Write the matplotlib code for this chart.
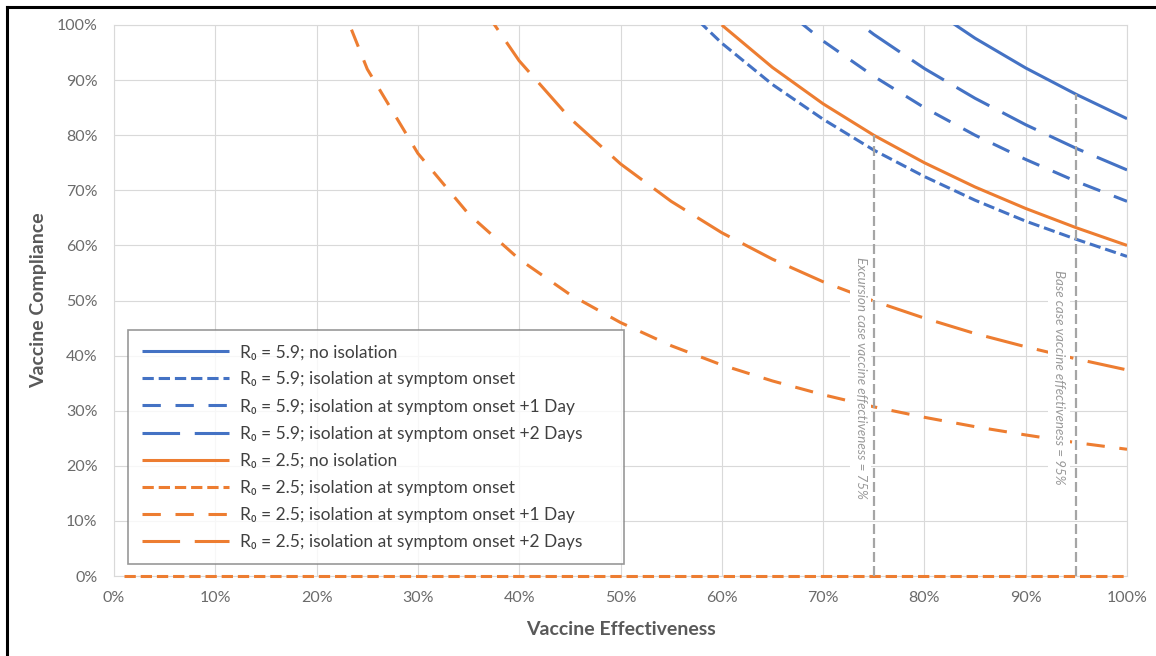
import matplotlib

matplotlib.use("Agg")
import matplotlib.pyplot as plt
from matplotlib.lines import Line2D
from matplotlib.ticker import PercentFormatter

# x grid shared by every series (vaccine effectiveness); each series
# holds the tail of the grid from the point where it enters the chart
ve = [0.01, 0.05, 0.10, 0.15, 0.20, 0.25, 0.30, 0.35, 0.40, 0.45, 0.50,
      0.55, 0.60, 0.65, 0.70, 0.75, 0.80, 0.85, 0.90, 0.95, 1.00]

# R0 = 5.9
r59_none = [1.038, 0.976, 0.922, 0.874, 0.830]
r59_onset = [1.055, 0.967, 0.892, 0.829, 0.773, 0.725, 0.682, 0.644, 0.611, 0.580]
r59_plus1 = [1.046, 0.971, 0.907, 0.850, 0.800, 0.756, 0.716, 0.680]
r59_plus2 = [1.053, 0.983, 0.921, 0.867, 0.819, 0.776, 0.737]

# R0 = 2.5
r25_none = [1.000, 0.923, 0.857, 0.800, 0.750, 0.706, 0.667, 0.632, 0.600]
r25_onset = [0.0] * len(ve)
r25_plus1 = [1.150, 0.920, 0.767, 0.657, 0.575, 0.511, 0.460, 0.418, 0.383,
             0.354, 0.329, 0.307, 0.288, 0.271, 0.256, 0.242, 0.230]
r25_plus2 = [1.069, 0.935, 0.831, 0.748, 0.680, 0.623, 0.575, 0.534, 0.499,
             0.468, 0.440, 0.416, 0.394, 0.374]

labels = [
    "R₀ = 5.9; no isolation",
    "R₀ = 5.9; isolation at symptom onset",
    "R₀ = 5.9; isolation at symptom onset +1 Day",
    "R₀ = 5.9; isolation at symptom onset +2 Days",
    "R₀ = 2.5; no isolation",
    "R₀ = 2.5; isolation at symptom onset",
    "R₀ = 2.5; isolation at symptom onset +1 Day",
    "R₀ = 2.5; isolation at symptom onset +2 Days",
]

# reference cases (vertical markers)
ref_ve = [0.75, 0.95]
ref_top = [0.800, 0.874]
ref_text = ["Excursion case vaccine effectiveness = 75%",
            "Base case vaccine effectiveness = 95%"]
ref_text_x = [0.737, 0.933]

BLUE = "#4472C4"
ORANGE = "#ED7D31"
DASHES = {
    "solid": None,
    "short": (3.7, 1.6),
    "medium": (6.0, 4.8),
    "long": (12.3, 4.8),
}

plt.rcParams["font.family"] = ["Lato", "DejaVu Sans"]

fig = plt.figure(figsize=(11.56, 6.56), dpi=100)
ax = fig.add_axes([114 / 1156, 80 / 656, 1013 / 1156, 551 / 656])

series = [
    (r59_none, BLUE, "solid"),
    (r59_onset, BLUE, "short"),
    (r59_plus1, BLUE, "medium"),
    (r59_plus2, BLUE, "long"),
    (r25_none, ORANGE, "solid"),
    (r25_onset, ORANGE, "short"),
    (r25_plus1, ORANGE, "medium"),
    (r25_plus2, ORANGE, "long"),
]
for (vals, color, style), label in zip(series, labels):
    xs = ve[-len(vals):]
    kw = dict(color=color, lw=2.2, label=label, solid_capstyle="butt",
              dash_capstyle="butt", zorder=3)
    if DASHES[style] is not None:
        kw["dashes"] = DASHES[style]
    line, = ax.plot(xs, vals, **kw)
    if max(vals) == 0:
        # the zero line sits on the x axis; don't let the axes clip half of it
        line.set_clip_on(False)
        line.set_zorder(4)

for x, top, txt, tx in zip(ref_ve, ref_top, ref_text, ref_text_x):
    ax.plot([x, x], [0, top], color="#A5A5A5", lw=1.6, dashes=(4.5, 1.8),
            zorder=5, clip_on=False)
    ax.text(tx, 0.36, txt, rotation=270, ha="center", va="center",
            fontsize=9.6, style="italic", color="#999999", zorder=4,
            bbox=dict(boxstyle="square,pad=0.35", fc="white", ec="none"))

ax.set_xlim(0, 1)
ax.set_ylim(0, 1)
ticks = [i / 10 for i in range(11)]
ax.set_xticks(ticks)
ax.set_yticks(ticks)
ax.xaxis.set_major_formatter(PercentFormatter(1.0, decimals=0))
ax.yaxis.set_major_formatter(PercentFormatter(1.0, decimals=0))
ax.grid(True, color="#D9D9D9", lw=0.8, zorder=0)
ax.set_axisbelow(True)
for sp in ax.spines.values():
    sp.set_color("#D9D9D9")
    sp.set_linewidth(0.8)
ax.tick_params(axis="both", length=0, labelsize=11.5, labelcolor="#6b6b6b")
ax.tick_params(axis="x", pad=11)
ax.tick_params(axis="y", pad=12)

ax.set_xlabel("Vaccine Effectiveness", fontsize=14, fontweight="bold",
              color="#595959")
ax.set_ylabel("Vaccine Compliance", fontsize=14, fontweight="bold",
              color="#595959")
ax.xaxis.set_label_coords(0.5, -0.082)
ax.yaxis.set_label_coords(-0.066, 0.5)

leg = ax.legend(loc="lower left", bbox_to_anchor=(0.0138, 0.0218, 0.4896, 0.417),
                mode="expand", fontsize=12.5, frameon=True, fancybox=False,
                handlelength=5.0, handletextpad=0.65, labelspacing=0.64,
                borderpad=0.8, borderaxespad=0)
leg.get_frame().set_edgecolor("#7F7F7F")
leg.get_frame().set_linewidth(1.2)
leg.set_zorder(6)
for t in leg.get_texts():
    t.set_color("#404040")

# black frame around the picture (left and top edges visible)
fx, fy = 7 / 1156, 1 - 7 / 656
fig.add_artist(Line2D([fx, fx], [0, fy], transform=fig.transFigure,
                      color="black", lw=2.2))
fig.add_artist(Line2D([fx, 1], [fy, fy], transform=fig.transFigure,
                      color="black", lw=2.2))

fig.savefig("out.png", dpi=100)
